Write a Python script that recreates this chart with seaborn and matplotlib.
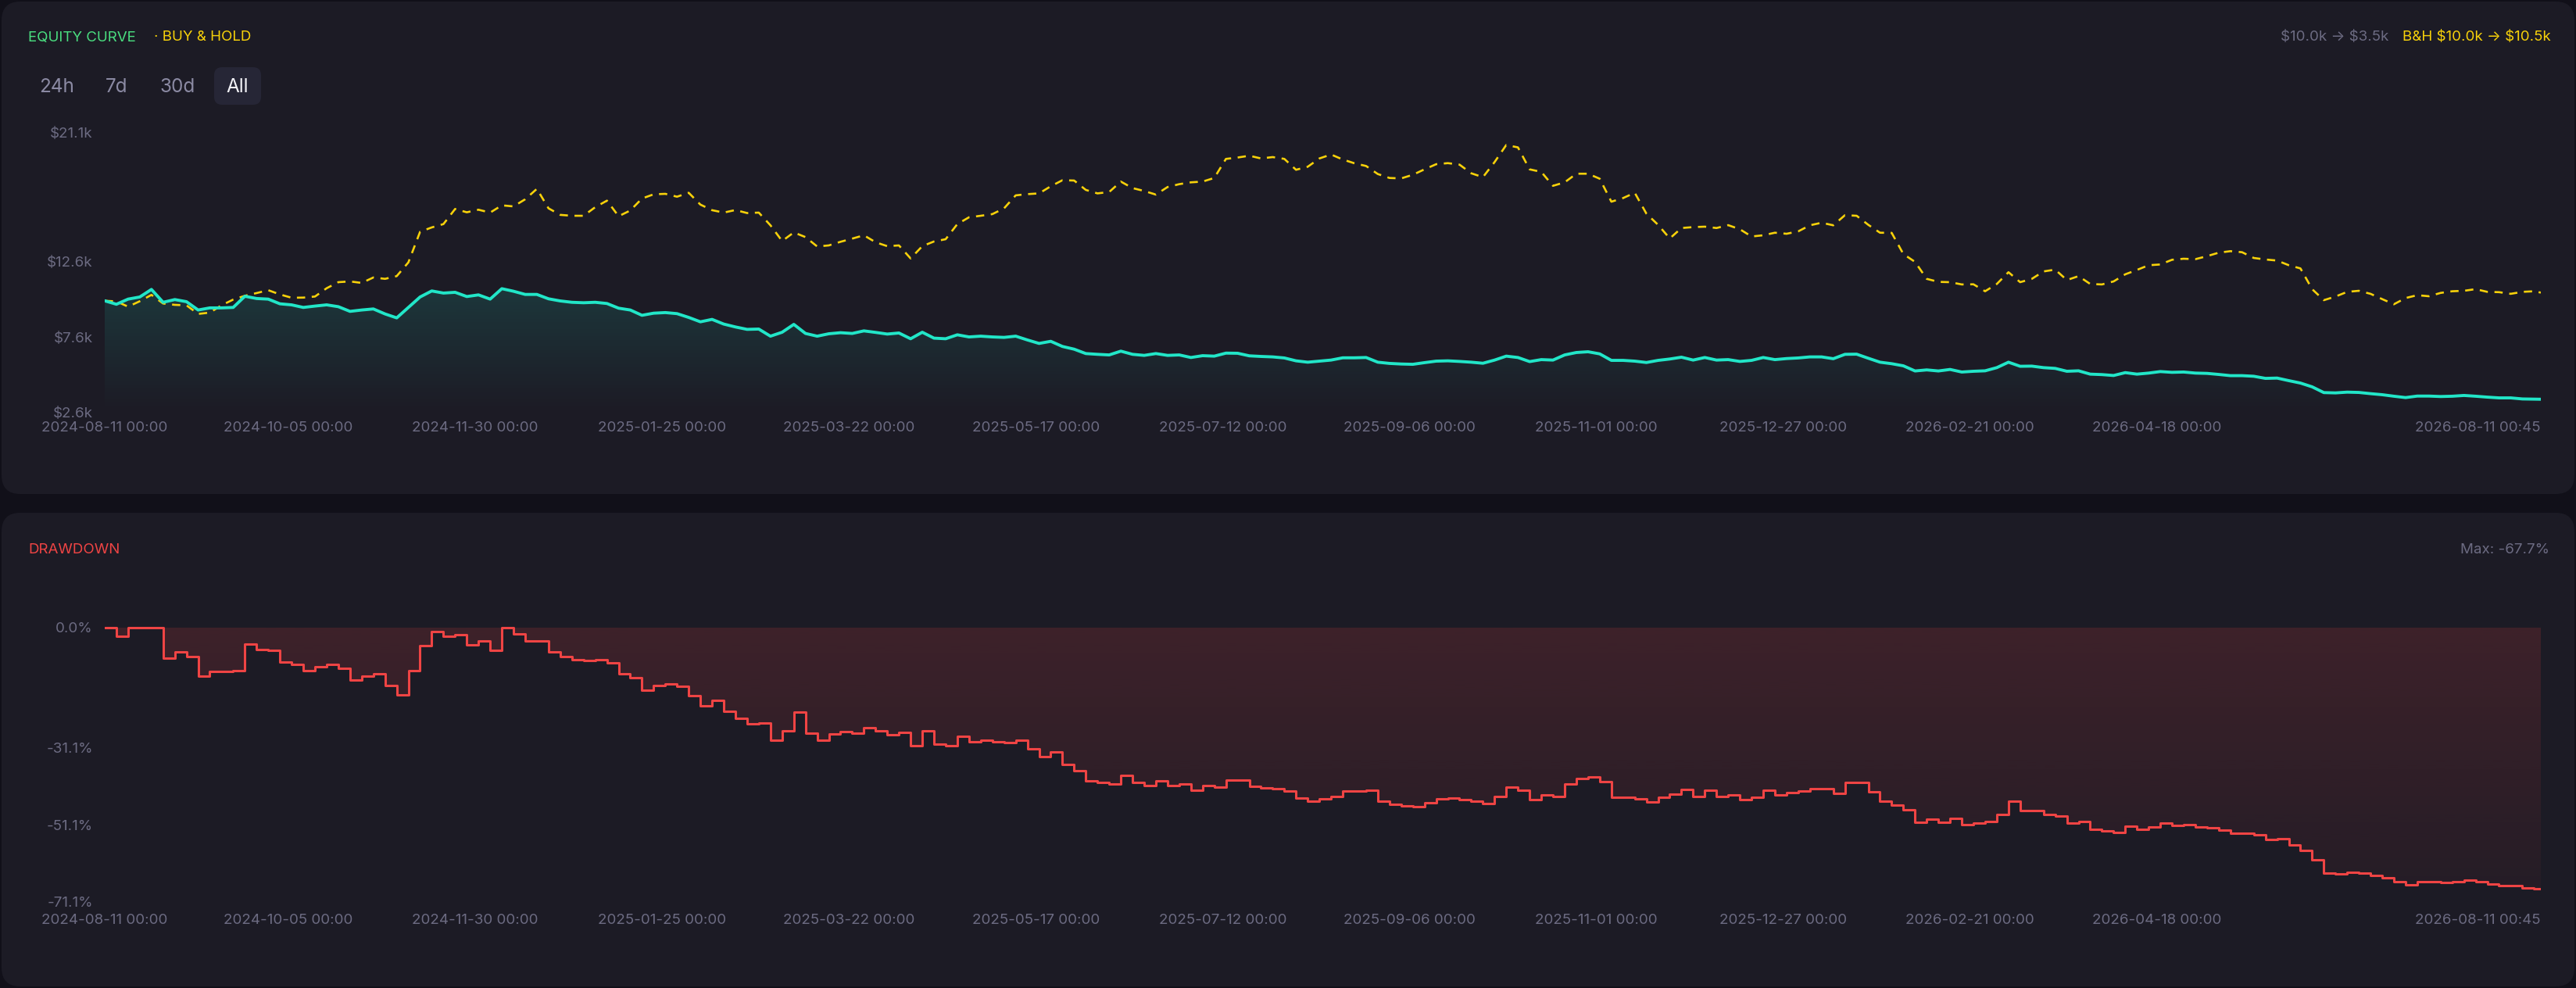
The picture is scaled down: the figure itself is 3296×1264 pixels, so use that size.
import numpy as np
import pandas as pd
import matplotlib
matplotlib.use("Agg")
import matplotlib.pyplot as plt
import matplotlib.dates as mdates
from matplotlib.patches import FancyBboxPatch
from matplotlib.colors import to_rgb
import seaborn as sns

# ---------------- data (one point every 3.5 days) ----------------
dates = list(pd.date_range("2024-08-11", periods=209, freq="84h")) + [pd.Timestamp("2026-08-11 00:45")]

# strategy equity, $k
equity_k = [
    10.00, 9.77, 10.11, 10.25, 10.75, 9.90, 10.08, 9.94, 9.39, 9.53,
    9.53, 9.56, 10.30, 10.15, 10.11, 9.80, 9.73, 9.56, 9.65, 9.73,
    9.61, 9.30, 9.39, 9.46, 9.13, 8.87, 9.56, 10.25, 10.65, 10.51,
    10.56, 10.28, 10.39, 10.11, 10.80, 10.63, 10.42, 10.42, 10.13, 9.99,
    9.90, 9.87, 9.90, 9.82, 9.51, 9.39, 9.04, 9.18, 9.22, 9.15,
    8.90, 8.61, 8.77, 8.46, 8.27, 8.11, 8.13, 7.66, 7.92, 8.44,
    7.84, 7.66, 7.82, 7.89, 7.84, 8.01, 7.91, 7.80, 7.87, 7.49,
    7.92, 7.53, 7.49, 7.75, 7.61, 7.66, 7.61, 7.58, 7.66, 7.41,
    7.18, 7.32, 6.98, 6.80, 6.51, 6.46, 6.42, 6.67, 6.46, 6.39,
    6.51, 6.39, 6.42, 6.25, 6.37, 6.34, 6.54, 6.53, 6.36, 6.32,
    6.29, 6.22, 6.03, 5.94, 6.01,
    6.08, 6.23, 6.23, 6.25, 5.94, 5.86, 5.82, 5.80, 5.91, 6.01,
    6.03, 5.99, 5.94, 5.87, 6.08, 6.34, 6.25, 5.98, 6.11, 6.08,
    6.42, 6.58, 6.63, 6.49, 6.06, 6.06, 6.01, 5.92, 6.06, 6.15,
    6.27, 6.08, 6.25, 6.08, 6.11, 5.99, 6.06, 6.25, 6.11, 6.18,
    6.22, 6.29, 6.29, 6.17, 6.46, 6.47, 6.20, 5.94, 5.84, 5.70,
    5.36, 5.43, 5.36, 5.46, 5.29, 5.34, 5.37, 5.58, 5.94, 5.67,
    5.68, 5.58, 5.53, 5.34, 5.37, 5.15, 5.12, 5.06, 5.25, 5.15,
    5.22, 5.32, 5.27, 5.29, 5.22, 5.20, 5.13, 5.05, 5.05, 5.01,
    4.87, 4.89, 4.72, 4.56, 4.31, 3.93, 3.91, 3.96, 3.94, 3.86,
    3.79, 3.69, 3.60, 3.70, 3.70, 3.67, 3.69, 3.74, 3.69, 3.63,
    3.58, 3.58, 3.51, 3.50, 3.49,
]

# buy & hold, $k
buyhold_k = [
    10.00, 9.96, 9.61, 9.97, 10.39, 9.82, 9.73, 9.70, 9.13, 9.22,
    9.70, 10.08, 10.33, 10.51, 10.70, 10.42, 10.20, 10.21, 10.28, 10.83,
    11.23, 11.28, 11.18, 11.54, 11.45, 11.63, 12.54, 14.56, 14.85, 15.07,
    16.07, 15.85, 16.02, 15.83, 16.31, 16.24, 16.71, 17.40, 16.11, 15.68,
    15.62, 15.62, 16.19, 16.62, 15.59, 15.97, 16.76, 17.04, 17.07, 16.88,
    17.14, 16.36, 15.99, 15.83, 16.00, 15.80, 15.83, 14.99, 13.95, 14.52,
    14.21, 13.59, 13.66, 13.90, 14.11, 14.33, 13.87, 13.61, 13.66, 12.80,
    13.61, 13.92, 14.07, 15.07, 15.52, 15.62, 15.73, 16.11, 16.97, 17.05,
    17.10, 17.57, 17.97, 17.95, 17.33, 17.10, 17.19, 17.88, 17.45, 17.26,
    17.02, 17.52, 17.71, 17.83, 17.88, 18.12, 19.38, 19.47, 19.59, 19.41,
    19.50, 19.38, 18.66, 18.86, 19.41,
    19.67, 19.34, 19.09, 18.91, 18.38, 18.12, 18.09, 18.33, 18.69, 19.03,
    19.10, 19.00, 18.43, 18.17, 19.17, 20.30, 20.14, 18.69, 18.52, 17.60,
    17.83, 18.40, 18.40, 18.07, 16.55, 16.79, 17.14, 15.76, 15.02, 14.12,
    14.81, 14.87, 14.90, 14.81, 15.00, 14.73, 14.25, 14.33, 14.50, 14.43,
    14.59, 14.99, 15.16, 14.99, 15.66, 15.62, 15.02, 14.50, 14.49, 13.09,
    12.57, 11.45, 11.25, 11.23, 11.08, 11.09, 10.63, 11.11, 11.89, 11.23,
    11.45, 11.94, 12.06, 11.37, 11.63, 11.11, 11.08, 11.28, 11.75, 12.04,
    12.35, 12.40, 12.71, 12.78, 12.75, 12.95, 13.18, 13.28, 13.21, 12.83,
    12.73, 12.66, 12.35, 12.14, 10.77, 10.04, 10.28, 10.59, 10.66, 10.46,
    10.11, 9.77, 10.18, 10.37, 10.30, 10.52, 10.63, 10.66, 10.77, 10.59,
    10.57, 10.46, 10.59, 10.63, 10.54,
]

tick_dates = ([pd.Timestamp("2024-08-11 00:00")]
              + list(pd.date_range("2024-10-05", periods=11, freq="56D"))
              + [pd.Timestamp("2026-08-11 00:45")])
equity_ticks = [2.6, 7.6, 12.6, 21.1]
drawdown_ticks = [0.0, -31.1, -51.1, -71.1]
ranges = ["24h", "7d", "30d", "All"]

df = pd.DataFrame({"date": dates, "equity": equity_k, "buyhold": buyhold_k})
df["drawdown"] = (df["equity"] / df["equity"].cummax() - 1.0) * 100.0

# ---------------- style ----------------
BG_OUT = "#111019"
CARD = "#1c1b25"
TEAL = "#22e6c8"
YELLOW = "#f7d10a"
RED = "#ef4444"
GREEN = "#4ade80"
GRAY = "#6c6b82"
BTN_GRAY = "#8b8aa3"

sns.set_theme(style="dark", rc={"axes.facecolor": "none", "figure.facecolor": BG_OUT,
                                "axes.grid": False})
plt.rcParams["font.family"] = ["Inter", "DejaVu Sans"]

W, H = 3296, 1264
fig = plt.figure(figsize=(W / 100, H / 100), dpi=100)
fig.patch.set_facecolor(BG_OUT)

bg = fig.add_axes([0, 0, 1, 1], zorder=0)
bg.set_xlim(0, W)
bg.set_ylim(H, 0)
bg.axis("off")
for (y0, y1) in [(2, 632), (656, 1262)]:
    bg.add_patch(FancyBboxPatch((2, y0), W - 4, y1 - y0,
                                boxstyle="round,pad=0,rounding_size=24",
                                fc=CARD, ec="none"))

# header texts
bg.text(36, 48, "EQUITY CURVE", color=GREEN, fontsize=13.5, va="center", ha="left")
bg.text(197, 48, "· BUY & HOLD", color=YELLOW, fontsize=13.5, va="center", ha="left")
bg.add_patch(FancyBboxPatch((274, 86), 60, 48, boxstyle="round,pad=0,rounding_size=10",
                            fc="#262636", ec="none"))
for lbl, cx in zip(ranges, [73, 149, 227, 304]):
    bg.text(cx, 111, lbl, color="#f2f2f7" if lbl == "All" else BTN_GRAY,
            fontsize=17.5, va="center", ha="center")

eq0, eq1 = df["equity"].iloc[0], df["equity"].iloc[-1]
bh0, bh1 = df["buyhold"].iloc[0], df["buyhold"].iloc[-1]
bg.text(3264, 47, f"B&H \\${bh0:.1f}k → \\${bh1:.1f}k", color=YELLOW, fontsize=13.5,
        va="center", ha="right")
bg.text(3056, 47, f"\\${eq0:.1f}k → \\${eq1:.1f}k", color=GRAY, fontsize=13.5,
        va="center", ha="right")
bg.text(36, 703, "DRAWDOWN", color=RED, fontsize=13.5, va="center", ha="left")
bg.text(3262, 703, f"Max: {df['drawdown'].min():.1f}%", color=GRAY, fontsize=13.5,
        va="center", ha="right")

# ---------------- plot axes ----------------
x0, x1 = 134, 3251
ax1 = fig.add_axes([x0 / W, 1 - 528 / H, (x1 - x0) / W, (528 - 170) / H], zorder=1)
ax2 = fig.add_axes([x0 / W, 1 - 1154 / H, (x1 - x0) / W, (1154 - 801) / H], zorder=1)


def gradient_fill(ax, x, y, base, color, a_top, a_bot, y_top, y_bot, step=None):
    poly = ax.fill_between(x, y, base, step=step, facecolor="none", edgecolor="none")
    xn = mdates.date2num(pd.to_datetime(x))
    rgba = np.zeros((256, 1, 4))
    rgba[..., :3] = to_rgb(color)
    rgba[:, 0, 3] = np.linspace(a_bot, a_top, 256)
    im = ax.imshow(rgba, extent=[xn[0], xn[-1], y_bot, y_top], origin="lower",
                   aspect="auto", zorder=1, interpolation="bilinear")
    im.set_clip_path(poly.get_paths()[0], transform=ax.transData)


# equity panel
gradient_fill(ax1, df["date"], df["equity"], equity_ticks[0], TEAL, 0.14, 0.0,
              df["equity"].max(), equity_ticks[0])
sns.lineplot(data=df, x="date", y="buyhold", ax=ax1, color=YELLOW, lw=1.9,
             linestyle=(0, (4, 3.2)), zorder=3)
sns.lineplot(data=df, x="date", y="equity", ax=ax1, color=TEAL, lw=2.8, zorder=4)
ax1.set_ylim(equity_ticks[0], equity_ticks[-1])
ax1.set_yticks(equity_ticks)
ax1.set_yticklabels([f"${v:.1f}k" for v in equity_ticks])

# drawdown panel
gradient_fill(ax2, df["date"], df["drawdown"], 0.0, RED, 0.16, 0.04,
              0.0, drawdown_ticks[-1], step="post")
sns.lineplot(data=df, x="date", y="drawdown", ax=ax2, color=RED, lw=2.2,
             drawstyle="steps-post", zorder=4)
ax2.set_ylim(drawdown_ticks[-1], 0.4)
ax2.set_yticks(drawdown_ticks)
ax2.set_yticklabels([f"{v:.1f}%" for v in drawdown_ticks])

for ax, pad in [(ax1, 8), (ax2, 11)]:
    ax.set_facecolor("none")
    ax.set_xlim(mdates.date2num(dates[0]), mdates.date2num(dates[-1]))
    ax.set_xticks(mdates.date2num(tick_dates))
    ax.set_xticklabels([d.strftime("%Y-%m-%d %H:%M") for d in tick_dates])
    ax.get_xticklabels()[-1].set_horizontalalignment("right")
    ax.set_xlabel("")
    ax.set_ylabel("")
    ax.grid(False)
    for s in ax.spines.values():
        s.set_visible(False)
    ax.tick_params(axis="x", length=0, pad=pad, labelsize=13.5, labelcolor=GRAY)
    ax.tick_params(axis="y", length=0, pad=11, labelsize=13.5, labelcolor=GRAY)
    leg = ax.get_legend()
    if leg:
        leg.remove()

fig.savefig("out.png", dpi=100, facecolor=BG_OUT)
